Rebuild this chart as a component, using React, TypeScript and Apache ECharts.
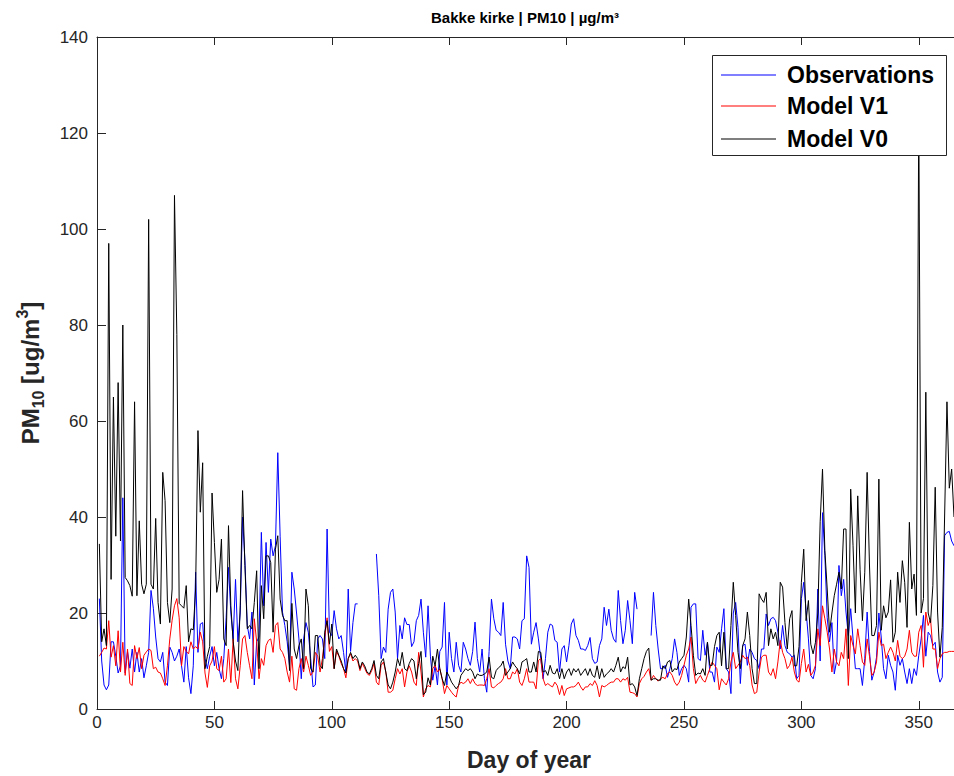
import React, { useEffect, useRef } from 'react';
import * as echarts from 'echarts';

// Day of year 1..365
const observations: (number | null)[] = [
  23, 10, 5, 4, 5, 14, 14, 11, 7.5, 9,
  44, 7.5, 12, 8.5, 12.5, 7.7, 11.8, 7.7, 10.5, 6.5,
  9, 11.8, 24.7, 21, 15, 10.5, 9.8, 11.8, 5.6, 4.9,
  12.9, 11.8, 10, 11, 12.5, 9, 5.6, 13, 6.5, 3.2,
  9, 28.5, 11.8, 17.7, 18, 10.5, 8.4, 11, 13, 9,
  11.8, 8.4, 6.3, 10.5, 19, 29.5, 20, 14.6, 27, 14,
  20, 40, 31, 17.4, 14.6, 20.2, 5, 14, 15, 36.8,
  21.5, 34.7, 24.3, 35.4, 31.9, 34, 53.4, 36, 20.2, 17.4,
  14, 9, 28.5, 25, 20, 14.6, 6.3, 14.6, 18, 16,
  10.5, 4.6, 5, 14.6, 15.3, 14.6, 10.5, 37.5, 16, 15.3,
  20.5, 16.7, 14.6, 15.3, 11.8, 7.7, 25, 12, 18, 21.9,
  21.9, null, null, null, null, null, null, null, 32.3, 23.6,
  10.5, 12.9, 11.8, 20.8, 24.3, 25, 20.2, 10.5, 17.4, 14.6,
  19, 17.6, 17.6, 13, 14, 18.4, 19.5, 22.9, 16, 10.8,
  21.5, 11, 6, 9, 5, 12, 12.9, 22.2, 5, 16,
  10.5, 7.7, 13.9, 9.1, 7.7, 13.9, 12.5, 10.5, 9.1, 12,
  18.1, 10.5, 7.7, 12.5, 6.3, 3.5, 12, 22.9, 18.8, 16.4,
  16, 15.3, 22.2, 13.5, 10, 8.4, 15, 15, 14.6, 12.5,
  18.4, 18.8, 31.9, 29.5, 13.5, 16, 18, 14.6, 10.5, 6.3,
  10.5, 16, 17.7, 17.4, 14.3, 13.9, 7.7, 12.5, 13.2, 9.8,
  13.2, 17.7, 18.8, 15.3, 14.3, 12.5, 12.5, 12.2, 13.2, 14.9,
  10.5, 9.5, 9.8, 13.2, 14.6, 21.2, 17.4, 20.8, 16.4, 14.6,
  13.9, 24.7, 18.4, 13.6, 16.4, 22.6, 18.4, 13.6, 24.3, 20.8,
  null, null, null, null, null, 15.3, 24.3, 17.4, 12.5, 8.4,
  8.4, 9.1, 6.6, 8.4, 10.5, 14.6, 11.8, 7, 8.4, 9.1,
  8.4, 5.6, 21.2, 21.9, 21.9, 10.5, 10.1, 16.4, 11.2, 13.9,
  7.7, 7.7, 5.6, 12.9, 11.8, 16.7, 20.9, 8.4, 7.7, 3.2,
  20, 22.2, 17, 5.3, 13.2, 13.5, 9.1, 12.5, 11.8, 10.5,
  10.1, 8.4, 12.5, 12.5, 19.8, 17.4, 18.8, 19.1, 18.4, 16,
  12.5, 17.4, 13.2, 11.8, 11.5, 10.8, 11.2, 6.3, 7, 23,
  26.4, 20.5, 14.6, 7, 6.3, 8.4, 25, 10, 40.9, 32,
  19, 14, 18, 7.3, 10, 29.9, 23.6, 27, 20.2, 15.3,
  20.9, 14.6, 8.4, 8.4, 8.4, 4.9, 10.5, 20.2, 12, 6,
  7.7, 10.8, 20, 15, 8.4, 6.3, 11.2, 9.1, 7.7, 3.9,
  11.2, 9.1, 10.5, 7.7, 5.3, 8.4, 5.3, 8.4, 7, 11.2,
  14.6, 19.5, 11, 16, 15.3, 13.2, 13.9, 7.7, 5.6, 6.6,
  36.1, 36.8, 37, 35, 34,
];

const modelV1: number[] = [
  11, 11.8, 12.7, 12.5, 18.4, 10.8, 13.2, 9, 16.3, 7.7,
  13.9, 7, 12.5, 5.3, 4.9, 13.2, 10.5, 12.8, 8.4, 11.2,
  11.9, 12.5, 12.2, 8.4, 8.7, 7.7, 7.5, 6.3, 4.9, 9,
  14.6, 18.5, 21.5, 23, 19, 9, 13, 12, 11.5, 14,
  12.5, 13, 12.5, 16, 14, 7.5, 4.5, 9, 10, 13,
  8.4, 8, 11, 5.6, 6.3, 12.5, 5.5, 14.6, 6.3, 4.2,
  9, 14.6, 15.3, 11.8, 9, 6.3, 18.8, 14, 6.3, 10.5,
  9.1, 13.2, 14.3, 14.6, 11.8, 17.4, 18, 12.5, 11.8, 10.5,
  7.7, 5.6, 11, 4.2, 3.9, 8.4, 10.5, 7.7, 11, 9.1,
  7, 7.7, 11.8, 11, 7.7, 10.5, 15, 19, 12, 13,
  8.4, 12, 11, 9.5, 8.4, 6.5, 10.5, 11.5, 10, 10.5,
  10, 8, 9.5, 8.5, 7.4, 7, 8, 9.5, 5.6, 5,
  9.1, 9.8, 7.7, 3.5, 3.5, 3.9, 6.3, 8.4, 7.3, 8.4,
  4.6, 7.7, 9, 7.7, 5.6, 4.9, 11.8, 7.7, 2.5, 4.2,
  4.9, 4.6, 8.4, 9.1, 7.7, 8.4, 6.3, 3.2, 4.9, 4.2,
  3.5, 2.9, 2.5, 4.9, 5.6, 5.3, 5.6, 6.3, 5.3, 6.3,
  5.3, 4.9, 5, 5, 4.9, 6.3, 8.4, 4.6, 4.4, 4.9,
  5.3, 5.6, 6.3, 8.4, 6.3, 6.3, 7.7, 7.3, 8.4, 5.6,
  4.9, 6.3, 8.4, 5.6, 5.6, 5.6, 4.2, 10.1, 10.5, 6.3,
  4.9, 5.3, 4.9, 4.6, 5.6, 4.9, 3, 4.9, 2.8, 4.2,
  4.4, 4.6, 4.6, 4.9, 5.6, 4.6, 3.9, 4.6, 4.6, 5.3,
  4.9, 5.9, 4.9, 2.5, 4.9, 4.6, 4.9, 5.3, 5.6, 5.6,
  6.3, 6.3, 5.6, 6.3, 6, 6.6, 3.5, 3.4, 3.2, 2.5,
  5.3, 6.3, 6.8, 7.7, 8.4, 6, 7, 6.3, 5.8, 6.3,
  6.6, 6.3, 7.4, 7.7, 7, 5.6, 4.9, 5.6, 7, 9.1,
  11.2, 12.5, 15, 8.4, 5.3, 6.3, 7, 6, 5.6, 7,
  8.4, 9.8, 9.1, 8.4, 4, 6.3, 5.6, 5, 6.3, 9.8,
  11.8, 8.4, 9.1, 9.8, 11.2, 10.5, 10.8, 9.1, 5, 3.2,
  3.5, 7.7, 10.8, 11.2, 11.2, 7.7, 7, 8.4, 6.3, 9.8,
  14.3, 11.8, 10.5, 8.4, 9.1, 10.8, 7.7, 6, 5.6, 9.5,
  12.5, 7.7, 9.3, 7, 7.7, 9.1, 16.7, 13.2, 21.5, 18.8,
  16, 12.5, 7.7, 12.5, 9.8, 9, 11.8, 10.5, 16.7, 4.9,
  15.3, 13.2, 11.5, 16.7, 13.2, 9.8, 9.1, 14.6, 11, 7,
  7.7, 9.8, 16, 13.2, 13.5, 10.5, 11.8, 12.9, 11.8, 10,
  14.3, 11, 10.5, 11, 12.5, 16.4, 11.8, 11, 11, 16,
  17.4, 8.7, 20.2, 17.4, 18.8, 12.5, 12.5, 8.4, 10.5, 11.5,
  11.8, 11.8, 12, 12, 12,
];

const modelV0: number[] = [
  34.4, 14, 16.7, 13.2, 97, 27, 65, 36, 68, 35,
  80, 27.4, 26.7, 25.7, 23.5, 64, 23.6, 39.2, 26, 24,
  26, 102, 26, 25, 39.7, 22.2, 17.7, 49.3, 43.4, 22.2,
  18, 25, 107, 78, 22, 21.5, 21, 25.7, 14, 16.7,
  16.5, 25, 58, 41, 51.3, 8.4, 11, 13, 45, 34.7,
  24.3, 27, 35.4, 14.6, 13.2, 38.2, 21.5, 14, 10, 8,
  21.5, 45.5, 29.9, 16.7, 17.4, 16.7, 22.2, 28.8, 8.4, 25.7,
  18.8, 31.9, 31.9, 30.5, 16, 33.3, 36.1, 22.9, 19.5, 18.4,
  18.4, 8, 22, 12.5, 10.5, 13.2, 14.6, 8.4, 25, 21.5,
  8.4, 7.7, 15.3, 15.3, 9.1, 8.4, 16, 18.4, 13.5, 17.7,
  8.4, 12.5, 11.2, 10, 8.4, 7.5, 10.5, 11.8, 10.5, 11.2,
  10.5, 8.4, 9.8, 9, 7.7, 7.3, 8.4, 10.1, 7, 6.3,
  9.8, 10.5, 7.7, 5, 4.2, 5.6, 7.7, 10.5, 9, 11.8,
  8.4, 8, 9.5, 10.5, 10, 6.3, 9.5, 12, 3, 3.5,
  6.5, 5, 11, 9, 12.5, 8.4, 6.3, 4.9, 7.7, 6.8,
  5.6, 4.9, 4.2, 4.9, 7, 7.7, 8.4, 8, 8.4, 7.7,
  6.3, 7.3, 7, 7, 7.3, 7.7, 10.8, 6.6, 6.3, 8,
  8.6, 9, 10, 7, 7.7, 8.4, 9.8, 9, 8.4, 7.3,
  9.8, 10.1, 10.5, 7.7, 7.7, 9.8, 7.7, 12, 11.8, 7.7,
  8, 7, 9.1, 7.5, 7.3, 8.4, 6.3, 8.4, 6.3, 7.7,
  8.4, 7, 8.4, 7.7, 8.4, 7, 7.7, 8.4, 7, 8.4,
  7, 6.6, 9, 6.3, 8.4, 6.6, 7.3, 7.7, 8.4, 7.7,
  9.1, 10.8, 7.7, 8.8, 8.4, 10.8, 5, 5.3, 4.6, 2.8,
  6.3, 8.4, 10.5, 12, 12.7, 6, 6.3, 6.3, 6, 6,
  9, 8.4, 9.8, 10.1, 7.7, 8.4, 8.2, 9.8, 10.5, 11.2,
  15, 22.9, 17.4, 11.2, 7, 7.5, 7.3, 8.4, 7, 13.9,
  9.1, 9.1, 13, 15.3, 16, 9, 16, 8.4, 8.4, 17.4,
  26.4, 19.5, 11.8, 8.4, 13.2, 14.6, 20.2, 15.3, 8.4, 5.3,
  5.3, 24, 22.9, 22.2, 24.3, 13.2, 16.7, 14.6, 16, 13.2,
  26.4, 25.4, 18, 12.5, 18.8, 20.5, 9, 9, 13, 26.4,
  33.3, 18.4, 22.6, 13.5, 11.5, 13.9, 20, 39, 50, 33,
  25, 16, 20, 23.6, 26, 28.5, 25, 37.5, 37.5, 10.5,
  45.8, 34, 20, 44.4, 29, 18.4, 28.5, 49.3, 30, 15.3,
  15.3, 17.4, 47.9, 16.4, 21.5, 19, 20.2, 26.9, 13.9, 16,
  28.5, 22.2, 30.9, 26.4, 17, 38.9, 25, 28.1, 19.5, 125,
  20, 23, 66, 20, 18, 25.7, 46.2, 20.2, 10.8, 17,
  40, 64, 46, 50, 40,
];

const seriesNames = ['Observations', 'Model V1', 'Model V0'];
const seriesColors = ['#0000ff', '#ff0000', '#000000'];
const titleText = 'Bakke kirke | PM10 | µg/m³';
const xAxisTitle = 'Day of year';

const FONT = '"Liberation Sans", Arial, Helvetica, sans-serif';
const AXIS_COLOR = '#262626';

const toPairs = (arr: (number | null)[]) =>
  arr.map((v, i) => [i + 1, v === null ? '-' : v]);

export default function App() {
  const ref = useRef<HTMLDivElement>(null);

  useEffect(() => {
    if (!ref.current) return;
    const chart = echarts.init(ref.current, undefined, { renderer: 'svg' });
    const gridLeft = 97;
    const gridTop = 37;
    const gridWidth = 865;
    const gridHeight = 672;

    const legendX = 712;
    const legendY = 55;
    const legendRows = [75, 106, 139];

    const graphics: any[] = [
      {
        type: 'text',
        id: 'title',
        x: gridLeft + 428,
        y: 17,
        style: {
          text: titleText,
          fontFamily: FONT,
          fontWeight: 'bold',
          fontSize: 15,
          fill: '#000',
          align: 'center',
          verticalAlign: 'middle',
        },
      },
      {
        type: 'text',
        id: 'xname',
        x: 529,
        y: 760,
        style: {
          text: xAxisTitle,
          fontFamily: FONT,
          fontWeight: 'bold',
          fontSize: 23,
          fill: '#262626',
          align: 'center',
          verticalAlign: 'middle',
        },
      },
      {
        type: 'text',
        id: 'yname',
        x: 30,
        y: 373,
        rotation: Math.PI / 2,
        style: {
          text: '{a|PM}{s|10}{a| [ug/m}{p|3}{a|]}',
          align: 'center',
          verticalAlign: 'middle',
          fill: '#262626',
          rich: {
            a: { fontFamily: FONT, fontWeight: 'bold', fontSize: 24, lineHeight: 32, fill: '#262626', verticalAlign: 'middle' },
            s: { fontFamily: FONT, fontWeight: 'bold', fontSize: 16, lineHeight: 32, fill: '#262626', verticalAlign: 'bottom' },
            p: { fontFamily: FONT, fontWeight: 'bold', fontSize: 16, lineHeight: 32, fill: '#262626', verticalAlign: 'top' },
          },
        },
      },
      {
        type: 'rect',
        id: 'legendBox',
        z: 100,
        shape: { x: legendX + 0.5, y: legendY + 0.5, width: 234, height: 100 },
        style: { fill: '#ffffff', stroke: '#262626', lineWidth: 1 },
      },
    ];
    seriesNames.forEach((name, i) => {
      graphics.push({
        type: 'line',
        id: 'legendLine' + i,
        z: 101,
        shape: { x1: legendX + 9, y1: legendRows[i], x2: legendX + 64, y2: legendRows[i] },
        style: { stroke: seriesColors[i], lineWidth: 1.2 },
      });
      graphics.push({
        type: 'text',
        id: 'legendText' + i,
        z: 101,
        x: legendX + 75,
        y: legendRows[i],
        style: {
          text: name,
          fontFamily: FONT,
          fontWeight: 'bold',
          fontSize: 23,
          fill: '#000',
          align: 'left',
          verticalAlign: 'middle',
        },
      });
    });

    const option: any = {
      animation: false,
      backgroundColor: '#ffffff',
      grid: { left: gridLeft, top: gridTop, width: gridWidth, height: gridHeight, containLabel: false },
      xAxis: [
        {
          type: 'value',
          min: 0,
          max: 365,
          interval: 50,
          axisLine: { show: true, onZero: false, lineStyle: { color: AXIS_COLOR, width: 1 } },
          axisTick: { show: true, inside: true, length: 8, lineStyle: { color: AXIS_COLOR } },
          axisLabel: { color: AXIS_COLOR, fontSize: 17, fontFamily: FONT, margin: 5, showMaxLabel: false },
          splitLine: { show: false },
        },
        {
          type: 'value',
          position: 'top',
          min: 0,
          max: 365,
          interval: 50,
          axisLine: { show: true, onZero: false, lineStyle: { color: AXIS_COLOR, width: 1 } },
          axisTick: { show: true, inside: true, length: 8, lineStyle: { color: AXIS_COLOR } },
          axisLabel: { show: false },
          splitLine: { show: false },
        },
      ],
      yAxis: {
        type: 'value',
        min: 0,
        max: 140,
        interval: 20,
        axisLine: { show: true, onZero: false, lineStyle: { color: AXIS_COLOR, width: 1 } },
        axisTick: { show: true, inside: true, length: 9, lineStyle: { color: AXIS_COLOR } },
        axisLabel: { color: AXIS_COLOR, fontSize: 17, fontFamily: FONT, margin: 9 },
        splitLine: { show: false },
      },
      series: [observations, modelV1, modelV0].map((arr, i) => ({
        name: seriesNames[i],
        type: 'line',
        xAxisIndex: 0,
        data: toPairs(arr),
        showSymbol: false,
        symbol: 'none',
        connectNulls: false,
        lineStyle: { color: seriesColors[i], width: 1 },
        itemStyle: { color: seriesColors[i] },
        z: 2 + i,
      })),
      graphic: graphics,
    };
    chart.setOption(option);
    return () => chart.dispose();
  }, []);

  return (
    <div
      ref={ref}
      style={{ position: 'absolute', left: 0, top: 0, width: 954, height: 776, background: '#fff' }}
    />
  );
}
